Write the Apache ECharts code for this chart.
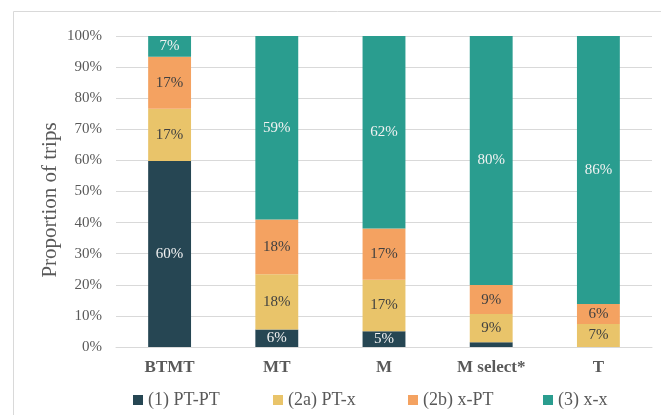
<!DOCTYPE html>
<html>
<head>
<meta charset="utf-8">
<script src="https://cdn.jsdelivr.net/npm/echarts@6/dist/echarts.min.js"></script>
<style>
  html, body { margin: 0; padding: 0; background: #ffffff; }
  #chart { width: 661px; height: 415px; }
</style>
</head>
<body>
<div id="chart"></div>
<script>
// Trip type shares by group (percent of trips)
const categories = ['BTMT', 'MT', 'M', 'M select*', 'T'];
const seriesNames = ['(1) PT-PT', '(2a) PT-x', '(2b) x-PT', '(3) x-x'];
const ptPt = [59.8, 5.6, 5.1, 1.5, 0];
const ptX  = [16.8, 17.8, 16.5, 9.1, 7.4];
const xPt  = [16.7, 17.6, 16.5, 9.3, 6.4];
const xX   = [6.7, 59.0, 61.9, 80.1, 86.2];
const yTicks = [0, 10, 20, 30, 40, 50, 60, 70, 80, 90, 100];

const colors = ['#264653', '#e9c46a', '#f4a261', '#2a9d8f'];
const labelColors = ['#f2f2f2', '#404040', '#404040', '#f2f2f2'];
const FONT = 'Liberation Serif';

const chart = echarts.init(document.getElementById('chart'), null, { renderer: 'canvas' });

const values = [ptPt, ptX, xPt, xX];
const series = values.map((data, i) => ({
  name: seriesNames[i],
  type: 'bar',
  stack: 'total',
  barWidth: '40%',
  data: data,
  itemStyle: { color: colors[i] },
  label: {
    show: true,
    position: 'inside',
    color: labelColors[i],
    fontFamily: FONT,
    fontSize: 15,
    formatter: p => (p.value >= 3 ? Math.round(p.value) + '%' : '')
  },
  emphasis: { disabled: true }
}));

// one legend block per series so each sits in its own fixed slot
const legendLefts = [133, 273, 408, 543];
const legends = seriesNames.map((n, i) => ({
  data: [n],
  left: legendLefts[i],
  top: 391,
  padding: 0,
  itemWidth: 10,
  itemHeight: 10,
  itemGap: 5,
  icon: 'rect',
  selectedMode: false,
  textStyle: { color: '#595959', fontFamily: FONT, fontSize: 18 }
}));

chart.setOption({
  animation: false,
  backgroundColor: '#ffffff',
  color: colors,
  grid: { left: 116, right: 9, top: 36, bottom: 68, containLabel: false },
  legend: legends,
  xAxis: {
    type: 'category',
    data: categories,
    axisLine: { show: true, lineStyle: { color: '#d9d9d9', width: 1 } },
    axisTick: { show: false },
    axisLabel: {
      color: '#595959', fontFamily: FONT, fontSize: 17, fontWeight: 'bold', margin: 12
    }
  },
  yAxis: {
    type: 'value',
    min: yTicks[0],
    max: yTicks[yTicks.length - 1],
    interval: yTicks[1] - yTicks[0],
    axisLine: { show: false },
    axisTick: { show: false },
    splitLine: { lineStyle: { color: '#d9d9d9', width: 1 } },
    axisLabel: {
      color: '#595959', fontFamily: FONT, fontSize: 15, margin: 14,
      formatter: '{value}%'
    }
  },
  graphic: [
    {
      type: 'rect',
      shape: { x: 13.5, y: 11.5, width: 800, height: 600 },
      style: { fill: 'none', stroke: '#d9d9d9', lineWidth: 1 },
      silent: true,
      z: -1
    },
    {
      type: 'text',
      x: 50,
      y: 200,
      rotation: Math.PI / 2,
      style: {
        text: 'Proportion of trips',
        fill: '#595959',
        font: '21px "Liberation Serif"',
        textAlign: 'center',
        textVerticalAlign: 'middle'
      },
      silent: true
    }
  ],
  series: series
});
</script>
</body>
</html>
